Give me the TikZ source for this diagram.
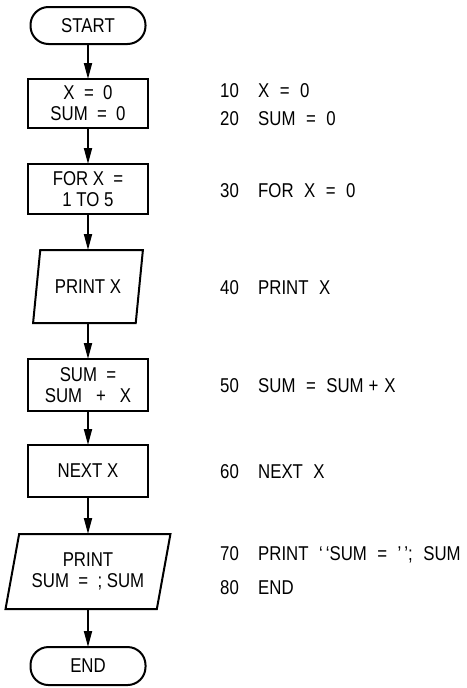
\documentclass[tikz,border=0pt]{standalone}
\usepackage{fontspec}
\setmainfont{Liberation Sans}[FakeStretch=0.84]
\usepackage{tikz}
\usetikzlibrary{arrows.meta,positioning,shapes.geometric}
\newcommand\listingfont{\fontsize{20}{22}\selectfont\spaceskip=10.5pt\relax}

\begin{document}
\begin{tikzpicture}[
    x=1pt, y=-1pt, font=\fontsize{20}{21}\selectfont, node distance=36pt,
    term/.style={rectangle, draw, line width=2pt, rounded corners=18pt, outer sep=0pt,
                 minimum width=115pt, minimum height=37pt, align=center},
    box/.style={rectangle, draw, line width=2.2pt, align=center, outer sep=0pt,
                minimum width=120pt, minimum height=50pt},
    io/.style={trapezium, draw, line width=2pt, align=center, outer sep=0pt,
               trapezium left angle=75, trapezium right angle=105,
               trapezium stretches=true},
    arr/.style={-{Triangle[length=16pt,width=8pt]}, line width=1.8pt},
    code/.style={anchor=west, inner sep=0pt, font=\listingfont}
]
\useasboundingbox (0,0) rectangle (466,688);

% Flowchart
\node[term] (start) at (88,25.5) {START};
\node[box, below=35pt of start, minimum height=49pt] (init) {X \ = \ 0\\SUM \ = \ 0};
\node[box, below=of init] (forx) {FOR X \ =\\1 TO 5};
\node[io, below=of forx, minimum width=110pt, minimum height=73pt] (printx) {PRINT X};
\node[box, below=of printx, minimum height=52pt] (sum) {SUM \ =\\SUM \ \ + \ \ X};
\node[box, below=34pt of sum, minimum height=52pt] (next) {NEXT X};
\node[io, below=37pt of next, minimum width=165pt, minimum height=75pt] (printsum) {PRINT\\SUM \ = \ ; SUM};
\node[term, below=38pt of printsum, minimum height=38pt] (end) {END};

\draw[arr] (start)    -- (init);
\draw[arr] (init)     -- (forx);
\draw[arr] (forx)     -- (printx);
\draw[arr] (printx)   -- (sum);
\draw[arr] (sum)      -- (next);
\draw[arr] (next)     -- (printsum);
\draw[arr] (printsum) -- (end);

% Program listing
\node[code] (l10) at (220,90.5)  {\makebox[38pt][l]{10}X = 0};
\node[code] (l20) at (220,119)   {\makebox[38pt][l]{20}SUM = 0};
\node[code] (l30) at (220,190.5) {\makebox[38pt][l]{30}FOR X = 0};
\node[code] (l40) at (220,287.5) {\makebox[38pt][l]{40}PRINT X};
\node[code] (l50) at (220,386)   {\makebox[38pt][l]{50}SUM = SUM\kern5pt+\kern6pt X};
\node[code] (l60) at (220,471.5) {\makebox[38pt][l]{60}NEXT X};
\node[code] (l70) at (220,555)   {\makebox[38pt][l]{70}PRINT `\kern3pt`SUM = '\kern3pt'; SUM};
\node[code] (l80) at (220,588)   {\makebox[38pt][l]{80}END};
\end{tikzpicture}
\end{document}
